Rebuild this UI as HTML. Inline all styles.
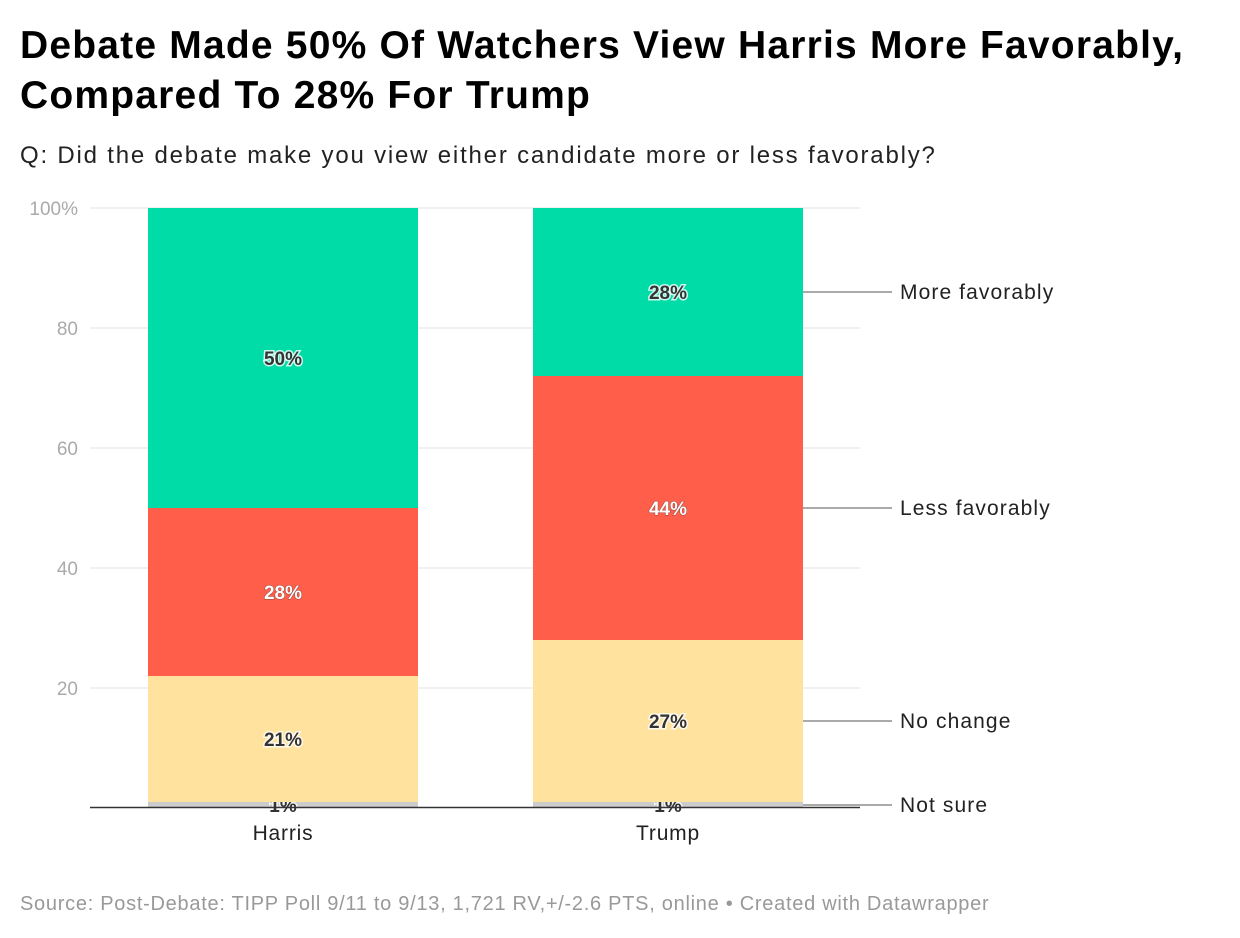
<!DOCTYPE html>
<html><head><meta charset="utf-8"><style>
body{margin:0;background:#fff;font-family:"Liberation Sans",Arial,sans-serif;}
#wrap{position:relative;width:1240px;height:938px;overflow:hidden}
h1{position:absolute;left:20px;top:21px;margin:0;font-size:39px;line-height:50px;font-weight:bold;color:#000;letter-spacing:1.2px;white-space:nowrap}
.sub{position:absolute;left:20px;top:142px;font-size:24px;color:#222;letter-spacing:1.8px;white-space:nowrap}
.src{position:absolute;left:20px;top:893px;font-size:20px;color:#999;letter-spacing:0.72px;white-space:nowrap}
</style></head><body><div id="wrap">
<h1>Debate Made 50% Of Watchers View Harris More Favorably,<br>Compared To 28% For Trump</h1>
<div class="sub">Q: Did the debate make you view either candidate more or less favorably?</div>
<svg id="plot" width="1240" height="938" style="position:absolute;left:0;top:0"></svg>
<div class="src">Source: Post-Debate: TIPP Poll 9/11 to 9/13, 1,721 RV,+/-2.6 PTS, online • Created with Datawrapper</div>
</div>
<script>
const categories=["Harris","Trump"];
const seriesNames=["Not sure","No change","Less favorably","More favorably"];
const notSure=[1,1];
const noChange=[21,27];
const lessFav=[28,44];
const moreFav=[50,28];
const yTicks=[0,20,40,60,80,100];
const yTickLabels=["","20","40","60","80","100%"];
const colors=["#cccccc","#fee29e","#ff5e4b","#00dca7"];
const series=[notSure,noChange,lessFav,moreFav];
const svg=document.getElementById('plot');
const NS="http://www.w3.org/2000/svg";
const y0=808,y1=208,x0=90,x1=860;
const y=v=>y0-(v/100)*(y0-y1);
const barX=[148,533],barW=270;
function mk(t,a,p){const e=document.createElementNS(NS,t);for(const k in a)e.setAttribute(k,a[k]);(p||svg).appendChild(e);return e;}
yTicks.forEach((t,i)=>{
 if(t>0){const l=mk('line',{x1:x0,x2:x1,y1:y(t),y2:y(t),stroke:'#e3e3e3','stroke-width':1});
 
 }
 const tx=mk('text',{x:78,y:y(t)+7,'text-anchor':'end','font-size':19,fill:'#aaa','font-family':'Liberation Sans, sans-serif'});
 tx.textContent=yTickLabels[i];
 
 
});
categories.forEach((c,ci)=>{
 let cum=0;
 series.forEach((s,si)=>{
  const v=s[ci];const top=y(cum+v),bot=y(cum);
  const r=mk('rect',{x:barX[ci],y:top,width:barW,height:bot-top,fill:colors[si]});
  
  
  const isRed=si==2;
  const t=mk('text',{x:barX[ci]+barW/2,y:(top+bot)/2+7,'text-anchor':'middle','font-size':19,'font-weight':'bold',fill:isRed?'#fff':'#333',stroke:isRed?'#333':'#fff','stroke-width':isRed?1:3,'paint-order':'stroke','stroke-opacity':isRed?0.5:0.8,'font-family':'Liberation Sans, sans-serif'});
  t.textContent=v+'%';
  
  
  if(ci==categories.length-1){
   const my=(top+bot)/2;
   const ll=mk('line',{x1:barX[ci]+barW,x2:892,y1:my,y2:my,stroke:'#555','stroke-width':1});
   
   
   const lt=mk('text',{x:900,y:my+7,'font-size':21,'letter-spacing':1.1,fill:'#222','font-family':'Liberation Sans, sans-serif'});
   lt.textContent=seriesNames[si];
   
   
  }
  cum+=v;
 });
 const xl=mk('text',{x:barX[ci]+barW/2,y:840,'text-anchor':'middle','font-size':21,'letter-spacing':0.8,fill:'#222','font-family':'Liberation Sans, sans-serif'});
 xl.textContent=c;
 
 
});
const ax=mk('line',{x1:x0,x2:x1,y1:y0-0.5,y2:y0-0.5,stroke:'#333','stroke-width':1.5});


</script></body></html>
